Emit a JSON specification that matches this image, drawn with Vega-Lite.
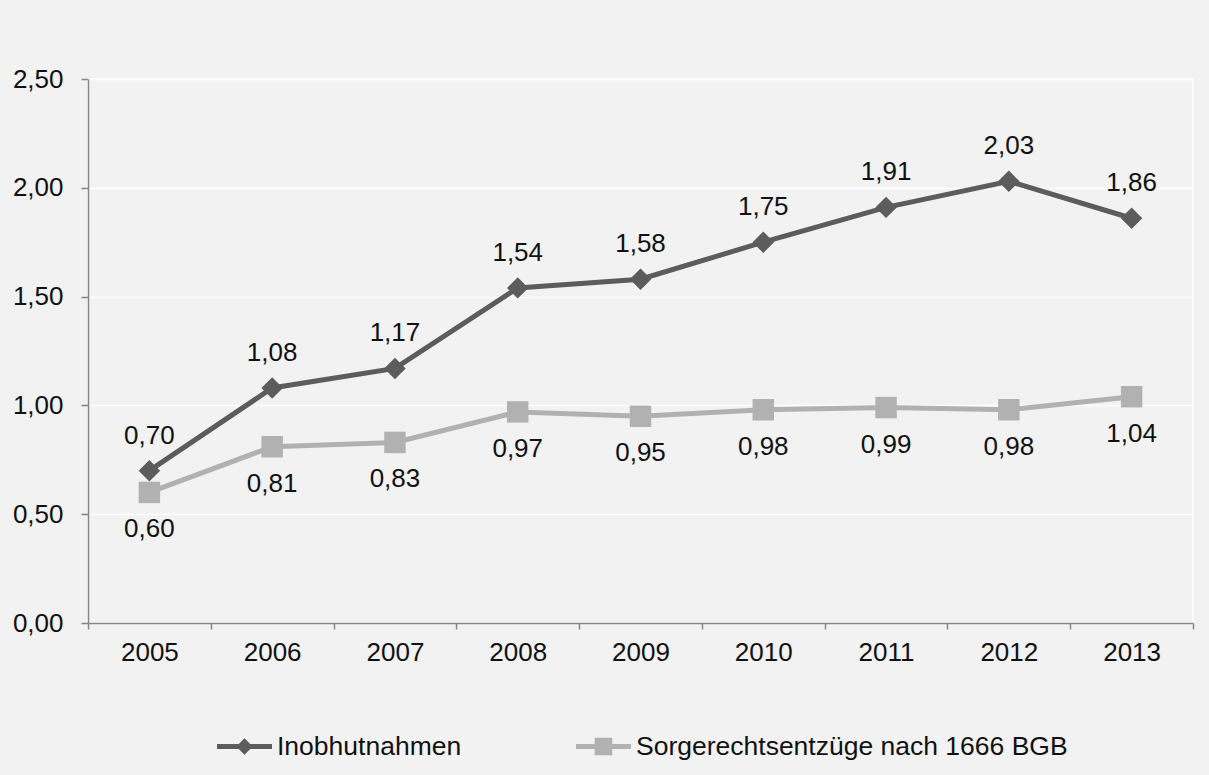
{
  "$schema": "https://vega.github.io/schema/vega-lite/v6.json",
  "width": 1105,
  "height": 544,
  "autosize": {"type": "none"},
  "padding": {"left": 88, "top": 79, "right": 16, "bottom": 152},
  "background": "#f2f2f2",
  "config": {
    "locale": {"number": {"decimal": ",", "thousands": ".", "grouping": [3], "currency": ["", " €"]}},
    "font": "Liberation Sans",
    "view": {"stroke": "#ffffff", "strokeWidth": 1.5}
  },
  "data": {
    "values": [
      {"year": "2005", "series": "Inobhutnahmen", "value": 0.70},
      {"year": "2006", "series": "Inobhutnahmen", "value": 1.08},
      {"year": "2007", "series": "Inobhutnahmen", "value": 1.17},
      {"year": "2008", "series": "Inobhutnahmen", "value": 1.54},
      {"year": "2009", "series": "Inobhutnahmen", "value": 1.58},
      {"year": "2010", "series": "Inobhutnahmen", "value": 1.75},
      {"year": "2011", "series": "Inobhutnahmen", "value": 1.91},
      {"year": "2012", "series": "Inobhutnahmen", "value": 2.03},
      {"year": "2013", "series": "Inobhutnahmen", "value": 1.86},
      {"year": "2005", "series": "Sorgerechtsentzüge nach 1666 BGB", "value": 0.60},
      {"year": "2006", "series": "Sorgerechtsentzüge nach 1666 BGB", "value": 0.81},
      {"year": "2007", "series": "Sorgerechtsentzüge nach 1666 BGB", "value": 0.83},
      {"year": "2008", "series": "Sorgerechtsentzüge nach 1666 BGB", "value": 0.97},
      {"year": "2009", "series": "Sorgerechtsentzüge nach 1666 BGB", "value": 0.95},
      {"year": "2010", "series": "Sorgerechtsentzüge nach 1666 BGB", "value": 0.98},
      {"year": "2011", "series": "Sorgerechtsentzüge nach 1666 BGB", "value": 0.99},
      {"year": "2012", "series": "Sorgerechtsentzüge nach 1666 BGB", "value": 0.98},
      {"year": "2013", "series": "Sorgerechtsentzüge nach 1666 BGB", "value": 1.04}
    ]
  },
  "encoding": {
    "x": {
      "field": "year", "type": "ordinal",
      "scale": {"type": "band", "paddingInner": 0, "paddingOuter": 0},
      "axis": {
        "title": null, "labelAngle": 0, "tickBand": "extent", "grid": false,
        "domainColor": "#868686", "domainWidth": 1.5, "tickColor": "#868686", "tickWidth": 1.5, "tickSize": 6,
        "labelFontSize": 26, "labelColor": "#111111", "labelPadding": 10
      }
    },
    "y": {
      "field": "value", "type": "quantitative",
      "scale": {"domain": [0, 2.5], "nice": false},
      "axis": {
        "title": null, "values": [0, 0.5, 1, 1.5, 2, 2.5], "format": ".2f",
        "grid": true, "gridColor": "#ffffff", "gridWidth": 1.5,
        "domainColor": "#868686", "domainWidth": 1.5, "tickColor": "#868686", "tickWidth": 1.5, "tickSize": 7,
        "labelFontSize": 26, "labelColor": "#111111", "labelPadding": 18
      }
    }
  },
  "layer": [
    {
      "mark": {"type": "line", "strokeWidth": 5},
      "encoding": {
        "color": {
          "field": "series", "type": "nominal",
          "scale": {"domain": ["Inobhutnahmen", "Sorgerechtsentzüge nach 1666 BGB"], "range": ["#5c5c5c", "#b1b1b1"]},
          "legend": null
        }
      }
    },
    {
      "mark": {"type": "point", "filled": true, "size": 460, "opacity": 1},
      "encoding": {
        "color": {
          "field": "series", "type": "nominal",
          "scale": {"domain": ["Inobhutnahmen", "Sorgerechtsentzüge nach 1666 BGB"], "range": ["#5c5c5c", "#b1b1b1"]},
          "legend": null
        },
        "shape": {
          "field": "series", "type": "nominal",
          "scale": {"domain": ["Inobhutnahmen", "Sorgerechtsentzüge nach 1666 BGB"], "range": ["diamond", "square"]},
          "legend": null
        }
      }
    },
    {
      "transform": [{"filter": "datum.value < 0"}],
      "mark": {"type": "point", "filled": true, "opacity": 1},
      "encoding": {
        "color": {
          "field": "series", "type": "nominal",
          "scale": {"domain": ["Inobhutnahmen", "Sorgerechtsentzüge nach 1666 BGB"], "range": ["#5c5c5c", "#b1b1b1"]},
          "legend": {
            "title": null, "orient": "none", "legendX": 129, "legendY": 640, "direction": "horizontal", "columns": 2,
            "symbolSize": 3025, "symbolStrokeWidth": 0, "labelFontSize": 26.5, "labelColor": "#111111", "labelOffset": 5, "columnPadding": 114,
            "labelLimit": 600
          }
        },
        "shape": {
          "field": "series", "type": "nominal",
          "scale": {"domain": ["Inobhutnahmen", "Sorgerechtsentzüge nach 1666 BGB"], "range": ["M-1,-0.09L1,-0.09L1,0.09L-1,0.09Z M0,-0.3L0.3,0L0,0.3L-0.3,0Z", "M-1,-0.09L1,-0.09L1,0.09L-1,0.09Z M-0.32,-0.32L0.32,-0.32L0.32,0.32L-0.32,0.32Z"]},
          "legend": {
            "title": null, "orient": "none", "legendX": 129, "legendY": 640, "direction": "horizontal", "columns": 2,
            "symbolSize": 3025, "symbolStrokeWidth": 0, "labelFontSize": 26.5, "labelColor": "#111111", "labelOffset": 5, "columnPadding": 114,
            "labelLimit": 600
          }
        }
      }
    },
    {
      "transform": [{"filter": "datum.series === 'Inobhutnahmen'"}],
      "mark": {"type": "text", "fontSize": 26, "baseline": "middle", "dy": -35, "fill": "#111111"},
      "encoding": {"text": {"field": "value", "type": "quantitative", "format": ".2f"}}
    },
    {
      "transform": [{"filter": "datum.series !== 'Inobhutnahmen'"}],
      "mark": {"type": "text", "fontSize": 26, "baseline": "middle", "dy": 37, "fill": "#111111"},
      "encoding": {"text": {"field": "value", "type": "quantitative", "format": ".2f"}}
    }
  ],
  "resolve": {"scale": {"color": "independent", "shape": "independent"}}
}
